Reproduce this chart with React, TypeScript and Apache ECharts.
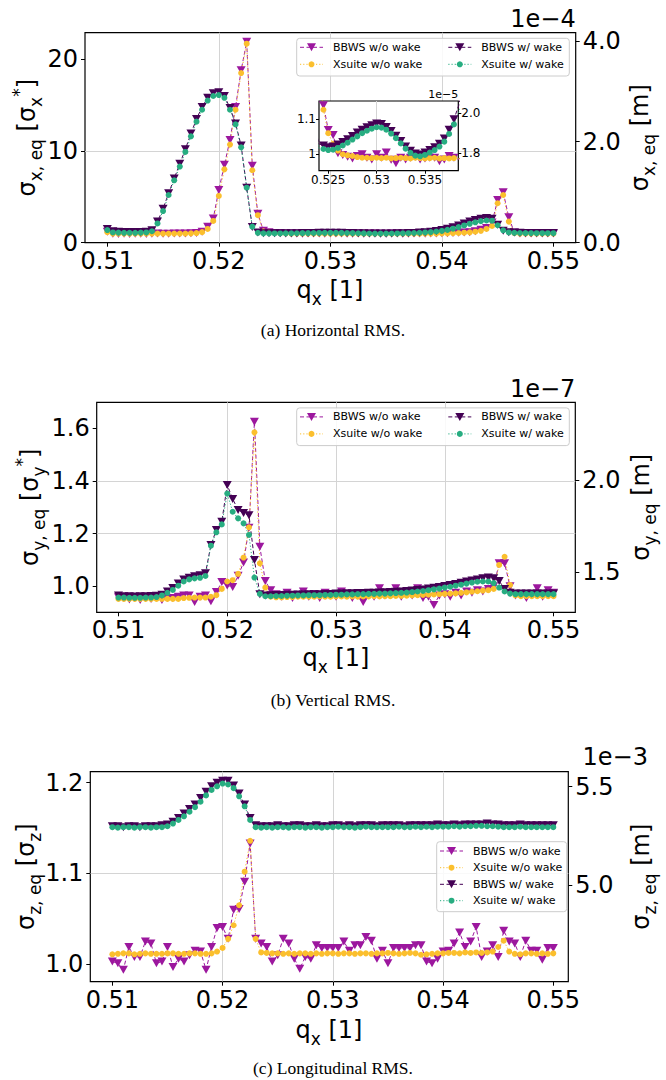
import React, { useEffect, useRef } from "react";
import * as echarts from "echarts";

// ---------- data ----------
const qx = [0.51,0.5105,0.511,0.5115,0.512,0.5125,0.513,0.5135,0.514,0.5145,0.515,0.5155,0.516,0.5165,0.517,0.5175,0.518,0.5185,0.519,0.5195,0.52,0.5205,0.521,0.5215,0.522,0.5225,0.523,0.5235,0.524,0.5245,0.525,0.5255,0.526,0.5265,0.527,0.5275,0.528,0.5285,0.529,0.5295,0.53,0.5305,0.531,0.5315,0.532,0.5325,0.533,0.5335,0.534,0.5345,0.535,0.5355,0.536,0.5365,0.537,0.5375,0.538,0.5385,0.539,0.5395,0.54,0.5405,0.541,0.5415,0.542,0.5425,0.543,0.5435,0.544,0.5445,0.545,0.5455,0.546,0.5465,0.547,0.5475,0.548,0.5485,0.549,0.5495,0.55];

const seriesNames = ["BBWS w/o wake", "Xsuite w/o wake", "BBWS w/ wake", "Xsuite w/ wake"];

// (a) horizontal, units of sigma_x*
const aBbwsWo = [1.2,0.97,0.96,0.98,0.96,0.97,0.98,0.96,0.97,0.99, 0.97,0.98,0.99,1.0,1.0,1.02,1.05,1.2,1.75,2.65, 5.75,8.5,11.2,14.8,18.8,21.9,8.4,3.15,1.3,1.14, 1.069,1.055,1.003,0.998,0.993,0.988,0.995,1.0,0.99,0.985, 1.0,0.99,1.005,0.984,0.974,0.99,0.985,0.99,0.993,0.985, 0.988,0.99,0.99,0.98,0.985,0.995,0.99,0.985,1.0,1.0, 1.02,1.03,1.05,1.08,1.1,1.15,1.25,1.4,1.6,2.2, 4.66,5.5,2.77,1.1,1.0,0.99,1.0,0.99,1.0,0.99, 1.0];
const aXsWo = [1.15,0.99,0.99,0.99,0.99,0.99,0.99,0.99,0.99,0.99, 0.99,0.99,1.0,1.0,1.0,1.02,1.05,1.15,1.5,2.37, 5.1,8.0,10.7,14.5,18.5,21.7,7.9,3.0,1.25,1.127, 1.06,1.03,1.01,1.0,0.997,0.995,0.992,0.99,0.99,0.989, 0.99,0.989,0.99,0.988,0.989,0.99,0.989,0.988,0.99,0.989, 0.988,0.989,0.99,0.988,0.989,0.988,0.989,0.988,0.99,1.0, 1.01,1.02,1.04,1.06,1.09,1.13,1.2,1.3,1.5,1.82, 4.3,5.2,2.3,1.05,0.99,0.99,0.99,0.99,0.99,0.99, 0.99];
const aBbwsW = [1.5,1.25,1.2,1.18,1.17,1.17,1.18,1.2,1.35,2.3, 3.7,5.4,7.0,8.6,10.2,11.9,13.5,14.8,15.8,16.3, 16.4,16.0,14.7,13.0,10.6,6.0,1.7,1.1,1.03,1.025, 1.02,1.022,1.028,1.035,1.043,1.052,1.062,1.07,1.077,1.083, 1.088,1.086,1.078,1.066,1.053,1.038,1.022,1.01,1.002,0.999, 1.005,1.012,1.02,1.03,1.045,1.07,1.1,1.14,1.2,1.28, 1.38,1.52,1.68,1.88,2.1,2.32,2.48,2.6,2.68,2.62, 1.95,1.3,1.15,1.1,1.08,1.07,1.07,1.06,1.06,1.06, 1.05];
const aXsW = [1.38,1.12,1.1,1.08,1.08,1.08,1.1,1.12,1.25,2.1, 3.45,5.2,6.8,8.3,9.9,11.6,13.2,14.5,15.5,16.0, 16.1,15.8,14.5,12.9,10.4,6.0,1.75,1.08,1.018,1.015, 1.012,1.013,1.018,1.025,1.033,1.042,1.051,1.06,1.067,1.073, 1.077,1.076,1.07,1.059,1.046,1.031,1.016,1.004,0.996,0.994, 0.998,1.005,1.012,1.022,1.036,1.058,1.085,1.12,1.16,1.22, 1.29,1.4,1.53,1.7,1.88,2.06,2.22,2.35,2.42,2.4, 1.9,1.35,1.12,1.08,1.06,1.05,1.05,1.04,1.04,1.04, 1.04];

// (b) vertical, units of sigma_y*
const bBbwsWo = [0.958,0.955,0.95,0.955,0.948,0.955,0.952,0.958,0.948,0.955, 0.955,0.96,0.965,0.965,0.94,0.96,0.965,0.943,0.978,1.016, 1.003,0.997,1.04,1.09,1.222,1.625,1.15,1.02,0.985,0.97, 0.96,0.975,0.955,0.965,0.98,0.96,0.97,0.955,0.975,0.965, 0.96,0.98,0.97,0.955,0.965,0.94,0.97,0.96,0.992,0.965, 0.97,0.992,0.96,0.975,0.965,0.992,0.955,0.96,0.929,0.965, 0.97,0.96,0.975,0.965,0.98,0.975,0.985,0.98,0.99,1.0, 1.087,1.087,1.0,0.965,0.97,0.955,0.97,0.992,0.96,0.985, 0.975];
const bXsWo = [0.952,0.952,0.952,0.952,0.952,0.952,0.952,0.952,0.952,0.952, 0.952,0.952,0.955,0.956,0.957,0.957,0.957,0.96,0.966,0.99, 1.018,1.023,1.047,1.109,1.224,1.585,1.087,0.995,0.96,0.958, 0.958,0.959,0.959,0.96,0.96,0.96,0.96,0.961,0.96,0.96, 0.961,0.961,0.96,0.961,0.96,0.961,0.961,0.962,0.961,0.962, 0.962,0.963,0.963,0.964,0.965,0.966,0.967,0.968,0.969,0.97, 0.971,0.972,0.973,0.975,0.977,0.979,0.981,0.983,0.985,0.99, 1.081,1.112,1.005,0.965,0.962,0.962,0.962,0.962,0.962,0.962, 0.962];
const bBbwsW = [0.965,0.962,0.962,0.961,0.962,0.962,0.963,0.964,0.968,0.98, 0.993,1.01,1.026,1.032,1.038,1.042,1.049,1.157,1.214,1.245, 1.385,1.332,1.29,1.278,1.27,1.1,0.97,0.965,0.966,0.967, 0.967,0.968,0.968,0.969,0.969,0.97,0.97,0.97,0.971,0.971, 0.972,0.972,0.973,0.973,0.974,0.974,0.975,0.975,0.976,0.977, 0.978,0.979,0.98,0.982,0.984,0.986,0.988,0.991,0.994,0.997, 1.001,1.005,1.009,1.013,1.018,1.022,1.026,1.03,1.033,1.03, 1.02,0.99,0.975,0.972,0.972,0.972,0.972,0.972,0.972,0.972, 0.972];
const bXsW = [0.957,0.957,0.956,0.956,0.956,0.957,0.957,0.959,0.965,0.975, 0.986,1.002,1.018,1.026,1.03,1.032,1.039,1.154,1.205,1.235, 1.352,1.283,1.258,1.239,1.195,1.033,0.971,0.962,0.962,0.963, 0.963,0.964,0.964,0.965,0.965,0.966,0.966,0.966,0.967,0.967, 0.968,0.968,0.969,0.969,0.97,0.97,0.971,0.971,0.972,0.972, 0.973,0.974,0.975,0.976,0.978,0.98,0.982,0.985,0.988,0.991, 0.995,0.998,1.002,1.006,1.01,1.014,1.017,1.018,1.018,1.012, 0.995,0.98,0.972,0.97,0.97,0.97,0.97,0.97,0.97,0.97, 0.97];

// (c) longitudinal, units of sigma_z
const cBbwsWo = [1.003,1.001,0.994,1.019,1.008,1.008,1.025,1.023,1.001,1.003, 1.019,0.997,1.006,1.003,1.01,1.015,1.014,0.994,1.019,1.04, 1.041,1.028,1.06,1.061,1.091,1.133,1.028,1.023,1.019,1.003, 1.01,1.028,1.023,1.006,0.995,1.008,1.006,1.021,1.018,1.018, 1.018,1.018,1.025,1.015,1.021,1.021,1.03,1.026,1.006,1.015, 1.001,1.018,1.018,1.018,1.018,1.021,1.021,1.003,1.001,1.006, 1.014,1.015,1.023,1.035,1.019,1.025,1.041,1.008,1.014,1.021, 1.008,1.037,1.025,1.023,1.008,1.026,1.015,1.015,1.005,1.018, 1.018];
const cXsWo = [1.011,1.0115,1.012,1.012,1.011,1.0115,1.012,1.0115,1.0115,1.0115, 1.012,1.012,1.0115,1.0115,1.012,1.012,1.0115,1.0115,1.012,1.014, 1.018,1.028,1.043,1.065,1.102,1.136,1.028,1.013,1.0125,1.012, 1.012,1.0115,1.012,1.0115,1.012,1.012,1.0115,1.012,1.0115,1.012, 1.012,1.0115,1.012,1.012,1.0115,1.012,1.012,1.0115,1.012,1.012, 1.0125,1.012,1.0115,1.012,1.0125,1.012,1.0105,1.011,1.0115,1.012, 1.012,1.0125,1.0125,1.012,1.013,1.0125,1.013,1.0125,1.013,1.014, 1.019,1.026,1.014,1.0115,1.011,1.012,1.012,1.0115,1.012,1.0115, 1.012];
const cBbwsW = [1.152,1.152,1.151,1.152,1.152,1.151,1.152,1.152,1.152,1.153, 1.154,1.157,1.161,1.166,1.171,1.176,1.183,1.19,1.196,1.2, 1.202,1.202,1.197,1.188,1.176,1.161,1.153,1.152,1.152,1.152, 1.153,1.152,1.152,1.153,1.153,1.152,1.152,1.153,1.152,1.152, 1.153,1.153,1.152,1.153,1.152,1.153,1.153,1.153,1.152,1.153, 1.153,1.153,1.153,1.152,1.153,1.153,1.153,1.153,1.153,1.154, 1.153,1.153,1.154,1.153,1.154,1.154,1.154,1.154,1.155,1.154, 1.154,1.153,1.153,1.153,1.154,1.153,1.153,1.153,1.153,1.153, 1.153];
const cXsW = [1.151,1.1505,1.151,1.151,1.1505,1.151,1.151,1.1505,1.151,1.151, 1.152,1.155,1.159,1.163,1.168,1.173,1.179,1.186,1.192,1.196, 1.199,1.198,1.194,1.185,1.174,1.159,1.151,1.1505,1.151,1.1505, 1.151,1.151,1.1505,1.151,1.151,1.1505,1.151,1.151,1.1505,1.151, 1.151,1.1515,1.151,1.151,1.1505,1.151,1.1515,1.151,1.151,1.151, 1.151,1.151,1.1515,1.151,1.151,1.1515,1.151,1.1515,1.151,1.1515, 1.1515,1.1515,1.152,1.1515,1.152,1.152,1.1525,1.1525,1.152,1.152, 1.1515,1.151,1.151,1.151,1.1515,1.151,1.151,1.151,1.151,1.151, 1.151];

// tick labels
const xTicks = [0.51, 0.52, 0.53, 0.54, 0.55];
const insetXTicks = [0.525, 0.53, 0.535];
const aLeftTicks = [0, 10, 20];
const aRightTicks = [0, 2, 4];
const bLeftTicks = [1.0, 1.2, 1.4, 1.6];
const bRightTicks = [1.5, 2.0];
const cLeftTicks = [1.0, 1.1, 1.2];
const cRightTicks = [5.0, 5.5];
const insetLeftTicks = [1, 1.1];
const insetRightTicks = [1.8, 2.0];

// ---------- style ----------
const FONT = "'DejaVu Sans', sans-serif";
const SERIF = "'Liberation Serif', 'Times New Roman', serif";
const COLORS = ["#9c179e", "#fbbf2d", "#440154", "#27ad81"];
const GRIDC = "#d4d4d4";

function zip(ys: number[]) {
  return qx.map((x, i) => [x, ys[i]]);
}

function mkSeries(k: number, ys: number[], xi: number, yi: number, z: number) {
  const isB = k === 0 || k === 2;
  const color = COLORS[k];
  return {
    type: "line",
    name: seriesNames[k],
    data: zip(ys),
    xAxisIndex: xi,
    yAxisIndex: yi,
    symbol: isB ? "triangle" : "circle",
    symbolRotate: isB ? 180 : 0,
    symbolSize: isB ? [9, 8] : 6,
    showSymbol: true,
    showAllSymbol: true,
    clip: true,
    z,
    silent: true,
    lineStyle: { color, width: 1, type: isB ? [4, 2.5] : [1.2, 2] },
    itemStyle: { color, opacity: 1 },
    emphasis: { disabled: true },
  };
}

function fmt(dec: number) {
  return (v: number) => String(+(+v).toFixed(dec));
}

function xAx(gridIndex: number, min: number, max: number, ticks: number[], o: any = {}) {
  return {
    type: "value",
    gridIndex,
    min,
    max,
    z: o.z ?? 0,
    splitNumber: o.splitNumber ?? 5,
    axisLine: { show: false },
    axisTick: { show: true, inside: false, length: o.tick ?? 4, lineStyle: { color: "#000", width: 1 }, customValues: ticks },
    axisLabel: {
      show: true,
      customValues: ticks,
      color: "#000",
      fontFamily: FONT,
      fontSize: o.fs ?? 24,
      margin: o.margin ?? 6,
      formatter: fmt(4),
    },
    splitLine: { show: true, showMinLine: false, showMaxLine: false, lineStyle: { color: GRIDC, width: 1 } },
  };
}

function yAx(gridIndex: number, min: number, max: number, ticks: number[], o: any = {}) {
  return {
    type: "value",
    gridIndex,
    min,
    max,
    position: o.right ? "right" : "left",
    z: o.z ?? 0,
    splitNumber: o.splitNumber ?? 5,
    interval: o.interval,
    axisLine: { show: false },
    axisTick: { show: true, inside: false, length: o.tick ?? 4, lineStyle: { color: "#000", width: 1 }, customValues: ticks },
    axisLabel: {
      show: true,
      customValues: ticks,
      color: "#000",
      fontFamily: FONT,
      fontSize: o.fs ?? 24,
      margin: o.margin ?? 7,
      formatter: o.formatter ?? fmt(3),
    },
    splitLine: { show: !o.right, showMinLine: false, showMaxLine: false, lineStyle: { color: GRIDC, width: 1 } },
  };
}

const RICH = {
  s: { fontSize: 17, fontFamily: FONT, fill: "#000", verticalAlign: "bottom", lineHeight: 17 },
  p: { fontSize: 17, fontFamily: FONT, fill: "#000", verticalAlign: "top", lineHeight: 17 },
};

function title(x: number, y: number, text: string, vertical: boolean) {
  return {
    type: "text",
    x,
    y,
    rotation: vertical ? Math.PI / 2 : 0,
    z: 20,
    silent: true,
    style: {
      text,
      fill: "#000",
      fontSize: 24,
      fontFamily: FONT,
      lineHeight: 34,
      align: "center",
      verticalAlign: "middle",
      textAlign: "center",
      textVerticalAlign: "middle",
      rich: RICH,
    },
  };
}

function plainText(x: number, y: number, text: string, size: number, align: string, family = FONT) {
  return {
    type: "text",
    x,
    y,
    z: 20,
    silent: true,
    style: { text, fill: "#000", fontSize: size, fontFamily: family, align, verticalAlign: "middle", textAlign: align, textVerticalAlign: "middle" },
  };
}

function legendItem(hx: number, cy: number, k: number) {
  const isB = k === 0 || k === 2;
  const color = COLORS[k];
  const mx = hx + 11.5;
  const els: any[] = [
    { type: "line", z: 21, silent: true, shape: { x1: hx, y1: cy, x2: hx + 23, y2: cy }, style: { stroke: color, lineWidth: 1, lineDash: isB ? [4, 2.5] : [1.2, 2] } },
    isB
      ? { type: "polygon", z: 22, silent: true, shape: { points: [[mx - 4.5, cy - 4], [mx + 4.5, cy - 4], [mx, cy + 4]] }, style: { fill: color } }
      : { type: "circle", z: 22, silent: true, shape: { cx: mx, cy, r: 3 }, style: { fill: color } },
    plainText(hx + 33, cy, seriesNames[k], 11, "left"),
  ];
  return els;
}

function legendBox(x: number, y: number, w: number, h: number) {
  return { type: "rect", z: 20, silent: true, shape: { x, y, width: w, height: h, r: 3 }, style: { fill: "rgba(255,255,255,0.85)", stroke: "#cccccc", lineWidth: 1 } };
}

export default function App() {
  const ref = useRef<HTMLDivElement>(null);
  useEffect(() => {
    if (!ref.current) return;
    const chart = echarts.init(ref.current, undefined, { renderer: "svg" });

    const gridBase = { show: true, borderColor: "#000", borderWidth: 1.2, backgroundColor: "transparent", containLabel: false, outerBoundsMode: "none" };
    const grids = [
      { ...gridBase, left: 85, top: 32.7, width: 490.7, height: 210, z: 0 },
      { ...gridBase, left: 96.7, top: 402.3, width: 478.6, height: 210, z: 0 },
      { ...gridBase, left: 90.3, top: 771.7, width: 478, height: 210, z: 0 },
      { ...gridBase, left: 319, top: 101, width: 139.3, height: 69.7, backgroundColor: "#ffffff", z: 4 },
    ];

    const xAxes = [
      xAx(0, 0.508, 0.552, xTicks),
      xAx(1, 0.508, 0.552, xTicks),
      xAx(2, 0.508, 0.55136, xTicks),
      xAx(3, 0.52404, 0.53845, insetXTicks, { fs: 12, margin: 3, tick: 3, splitNumber: 3, z: 5 }),
    ];

    const yAxes = [
      yAx(0, 0, 22.9, aLeftTicks, { interval: 10 }),
      yAx(0, 0, 4.16, aRightTicks, { right: true, interval: 2, formatter: (v: number) => (+v).toFixed(1) }),
      yAx(1, 0.901, 1.699, bLeftTicks, { splitNumber: 5, formatter: (v: number) => (+v).toFixed(1) }),
      yAx(1, 0.901 * 1.424, 1.699 * 1.424, bRightTicks, { right: true, formatter: (v: number) => (+v).toFixed(1) }),
      yAx(2, 0.9808, 1.2121, cLeftTicks, { splitNumber: 3, formatter: (v: number) => (+v).toFixed(1) }),
      yAx(2, 0.9808 * 4.6, 1.2121 * 4.6, cRightTicks, { right: true, formatter: (v: number) => (+v).toFixed(1) }),
      yAx(3, 0.953, 1.152, insetLeftTicks, { fs: 12, margin: 3, tick: 3, splitNumber: 2, z: 5, formatter: fmt(2) }),
      yAx(3, 1.7128, 2.0613, insetRightTicks, { right: true, fs: 12, margin: 3, tick: 3, z: 5, formatter: (v: number) => (+v).toFixed(1) }),
    ];

    const panels = [
      { ys: [aBbwsWo, aXsWo, aBbwsW, aXsW], xi: 0, yi: 0, z: 2 },
      { ys: [bBbwsWo, bXsWo, bBbwsW, bXsW], xi: 1, yi: 2, z: 2 },
      { ys: [cBbwsWo, cXsWo, cBbwsW, cXsW], xi: 2, yi: 4, z: 2 },
      { ys: [aBbwsWo, aXsWo, aBbwsW, aXsW], xi: 3, yi: 6, z: 6 },
    ];
    const series: any[] = [];
    panels.forEach((p) => p.ys.forEach((ys, k) => series.push(mkSeries(k, ys, p.xi, p.yi, p.z))));

    const graphics: any[] = [
      // axis titles
      title(27, 137.7, "σ{s|x, eq} [σ{s|x}{p|*}]", true),
      title(640, 137.7, "σ{s|x, eq} [m]", true),
      title(330, 290, "q{s|x} [1]", false),
      title(30, 507.3, "σ{s|y, eq} [σ{s|y}{p|*}]", true),
      title(641, 507.3, "σ{s|y, eq} [m]", true),
      title(336, 658, "q{s|x} [1]", false),
      title(26, 876.7, "σ{s|z, eq} [σ{s|z}]", true),
      title(641, 876.7, "σ{s|z, eq} [m]", true),
      title(329, 1030, "q{s|x} [1]", false),
      // offset texts
      plainText(575.7, 19, "1e−4", 24, "right"),
      plainText(575.3, 389, "1e−7", 24, "right"),
      plainText(648, 757, "1e−3", 24, "right"),
      plainText(458.3, 94, "1e−5", 11, "right"),
      // captions
      plainText(333, 330, "(a) Horizontal RMS.", 17.5, "center", SERIF),
      plainText(333, 700, "(b) Vertical RMS.", 17.5, "center", SERIF),
      plainText(333, 1068, "(c) Longitudinal RMS.", 17.5, "center", SERIF),
      // legends
      legendBox(296.7, 38.3, 272.6, 37.7),
      ...legendItem(300, 47.3, 0),
      ...legendItem(300, 64.3, 1),
      ...legendItem(448.3, 47.3, 2),
      ...legendItem(448.3, 64.3, 3),
      legendBox(296.7, 407.9, 272.6, 37.7),
      ...legendItem(300, 416.9, 0),
      ...legendItem(300, 433.9, 1),
      ...legendItem(448.3, 416.9, 2),
      ...legendItem(448.3, 433.9, 3),
      legendBox(436.7, 841.7, 130, 70),
      ...legendItem(440, 851, 0),
      ...legendItem(440, 867.7, 1),
      ...legendItem(440, 884.3, 2),
      ...legendItem(440, 900.7, 3),
    ];

    chart.setOption({
      animation: false,
      backgroundColor: "#ffffff",
      textStyle: { fontFamily: FONT },
      grid: grids,
      xAxis: xAxes,
      yAxis: yAxes,
      series,
      graphic: { elements: graphics },
    });
    return () => chart.dispose();
  }, []);
  return <div ref={ref} style={{ position: "absolute", left: 0, top: 0, width: 666, height: 1080, background: "#fff" }} />;
}
